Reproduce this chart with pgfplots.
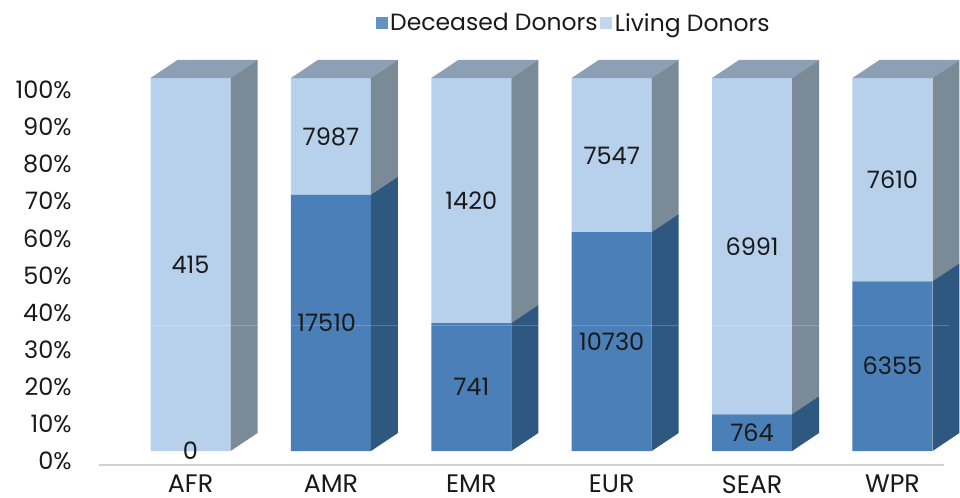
\documentclass[border=0pt]{standalone}
\usepackage{pgfplots}
\pgfplotsset{compat=1.18}
\usepackage{fontspec}
\setmainfont{Poppins}
\definecolor{decfront}{HTML}{4A7FB8}
\definecolor{livfront}{HTML}{B7D0EC}
\definecolor{decside}{HTML}{2F5880}
\definecolor{livside}{HTML}{7A8A96}
\definecolor{topface}{HTML}{8D9FB5}
\definecolor{txt}{HTML}{1A1A1A}
\pgfplotsset{
  base/.style={
    at={(74.25pt,24pt)}, anchor=south west,
    scale only axis, width=633.75pt, height=333.75pt,
    xmin=-0.652, xmax=5.367, ymin=-3.75, ymax=115.55,
    clip=false,
  },
  face/.style={fill=#1, draw=none},
}
\begin{document}
\begin{tikzpicture}
\useasboundingbox (0,0) rectangle (720pt,372.75pt);
\begin{axis}[
    base,
    ybar stacked,
    bar width=60pt,
    axis y line=none,
    axis x line*=bottom,
    axis line style={draw=black!18, line width=1.5pt},
    x axis line style={-},
    xtick={0,1,2,3,4,5},
    xticklabels={AFR,AMR,EMR,EUR,SEAR,WPR},
    xtick style={draw=none},
    xticklabel style={font=\fontsize{19}{22}\selectfont, text=txt, inner sep=0pt, yshift=-7.5pt},
    legend columns=2,
    legend style={draw=none, fill=none, at={(0.562,0.993)}, anchor=center,
      font=\fontsize{17.6}{20}\selectfont, text=txt,
      /tikz/every even column/.append style={column sep=0pt}},
    legend image code/.code={\fill[#1] (0pt,-4.5pt) rectangle (9pt,4.5pt);},
]
\addlegendimage{fill=decfront!85!white, draw=none}
\addlegendentry{Deceased Donors}
\addlegendimage{fill=livfront!85!white, draw=none}
\addlegendentry{Living Donors}
\addplot[forget plot, fill=decfront, draw=none] coordinates {(0,0) (1,68.7) (2,34.3) (3,58.7) (4,9.85) (5,45.5)};
\addplot[forget plot, fill=livfront, draw=none] coordinates {(0,100) (1,31.3) (2,65.7) (3,41.3) (4,90.15) (5,54.5)};
\end{axis}
\begin{axis}[
    base,
    hide x axis,
    axis y line*=left,
    axis line style={draw=none},
    ytick={-2.68,7.27,17.21,27.16,37.10,47.05,57.00,66.94,76.89,86.83,96.78},
    yticklabels={0\%,10\%,20\%,30\%,40\%,50\%,60\%,70\%,80\%,90\%,100\%},
    ytick style={draw=none},
    yticklabel style={font=\fontsize{18}{21}\selectfont, text=txt, anchor=east, xshift=-17pt},
]
% tops
\addplot[face=topface] coordinates {(-0.285,100) (-0.093,104.83) (0.477,104.83) (0.285,100)} -- cycle;
\addplot[face=topface] coordinates {(0.715,100) (0.907,104.83) (1.477,104.83) (1.285,100)} -- cycle;
\addplot[face=topface] coordinates {(1.715,100) (1.907,104.83) (2.477,104.83) (2.285,100)} -- cycle;
\addplot[face=topface] coordinates {(2.715,100) (2.907,104.83) (3.477,104.83) (3.285,100)} -- cycle;
\addplot[face=topface] coordinates {(3.715,100) (3.907,104.83) (4.477,104.83) (4.285,100)} -- cycle;
\addplot[face=topface] coordinates {(4.715,100) (4.907,104.83) (5.477,104.83) (5.285,100)} -- cycle;
% side faces, living
\addplot[face=livside] coordinates {(0.285,0) (0.477,4.83) (0.477,104.83) (0.285,100)} -- cycle;
\addplot[face=livside] coordinates {(1.285,68.7) (1.477,73.53) (1.477,104.83) (1.285,100)} -- cycle;
\addplot[face=livside] coordinates {(2.285,34.3) (2.477,39.13) (2.477,104.83) (2.285,100)} -- cycle;
\addplot[face=livside] coordinates {(3.285,58.7) (3.477,63.53) (3.477,104.83) (3.285,100)} -- cycle;
\addplot[face=livside] coordinates {(4.285,9.85) (4.477,14.68) (4.477,104.83) (4.285,100)} -- cycle;
\addplot[face=livside] coordinates {(5.285,45.5) (5.477,50.33) (5.477,104.83) (5.285,100)} -- cycle;
% side faces, deceased
\addplot[face=decside] coordinates {(1.285,0) (1.477,4.83) (1.477,73.53) (1.285,68.7)} -- cycle;
\addplot[face=decside] coordinates {(2.285,0) (2.477,4.83) (2.477,39.13) (2.285,34.3)} -- cycle;
\addplot[face=decside] coordinates {(3.285,0) (3.477,4.83) (3.477,63.53) (3.285,58.7)} -- cycle;
\addplot[face=decside] coordinates {(4.285,0) (4.477,4.83) (4.477,14.68) (4.285,9.85)} -- cycle;
\addplot[face=decside] coordinates {(5.285,0) (5.477,4.83) (5.477,50.33) (5.285,45.5)} -- cycle;
% faint scan line in the source image
\addplot[white, opacity=0.2, line width=0.6pt] coordinates {(-0.3,33.8) (5.4,33.8)};
% value labels
\addplot[draw=none, mark=none, point meta=explicit symbolic,
    nodes near coords,
    nodes near coords style={anchor=center, inner sep=0pt, text=txt, font=\fontsize{18}{21}\selectfont}]
  coordinates {
    (0,50)[415] (0,0)[0]
    (1,84.2)[7987] (0.97,34.3)[17510]
    (2,67)[1420] (2,17.2)[741]
    (3,79)[7547] (3,29.4)[10730]
    (4,54.7)[6991] (4,5)[764]
    (5,72.7)[7610] (5,22.8)[6355]
  };
\end{axis}
\end{tikzpicture}
\end{document}
